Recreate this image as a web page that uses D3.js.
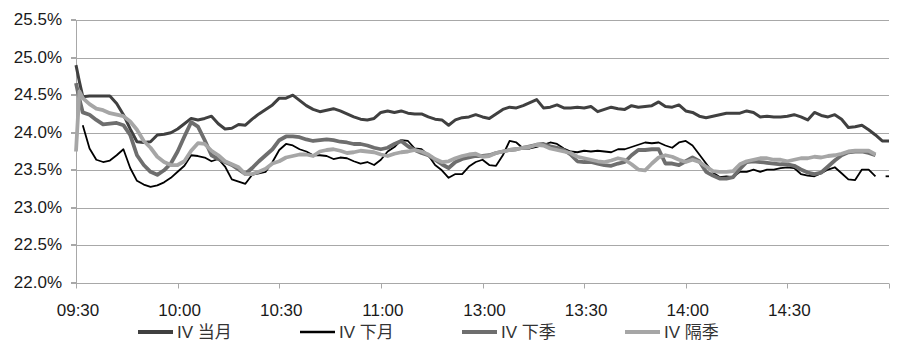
<!DOCTYPE html>
<html><head><meta charset="utf-8">
<script src="https://cdn.jsdelivr.net/npm/d3@7"></script>
<style>body{margin:0;background:#fff;}svg{display:block;}</style>
</head><body><svg id="c" width="900" height="353"></svg>
<script>
// minutes of trading since 09:30 (11:30 and 13:00 share minute 120)
const minutes = [0, 1].concat(d3.range(2, 241, 2));
const times = minutes.map(m => {
  const t = m <= 120 ? 570 + m : 780 + (m - 120);
  return String(Math.floor(t / 60)).padStart(2, "0") + ":" + String(t % 60).padStart(2, "0");
});
const xTickLabels = ["09:30","10:00","10:30","11:00","13:00","13:30","14:00","14:30"];
const yTickValues = [22.0, 22.5, 23.0, 23.5, 24.0, 24.5, 25.0, 25.5];
const seriesNames = ["IV 当月", "IV 下月", "IV 下季", "IV 隔季"];

const ivDangYue = [
 24.90,24.68,24.48,24.49,24.49,24.49,24.49,24.39,24.24,24.05,23.88,23.87,23.88,23.97,23.98,24.00,24.05,24.12,24.19,24.17,24.19,
 24.22,24.12,24.05,24.06,24.11,24.10,24.18,24.25,24.31,24.37,24.46,24.46,24.50,24.43,24.36,24.31,24.28,24.30,24.32,24.29,
 24.25,24.21,24.18,24.17,24.19,24.27,24.29,24.27,24.29,24.26,24.25,24.25,24.21,24.18,24.17,24.10,24.17,24.20,24.21,24.24,
 24.21,24.19,24.25,24.31,24.34,24.33,24.36,24.40,24.44,24.33,24.34,24.37,24.33,24.33,24.34,24.33,24.35,24.28,24.31,24.34,
 24.32,24.31,24.36,24.34,24.35,24.36,24.41,24.35,24.34,24.37,24.29,24.27,24.22,24.20,24.22,24.24,24.26,24.26,24.26,24.29,
 24.27,24.21,24.22,24.21,24.21,24.22,24.24,24.21,24.17,24.27,24.23,24.21,24.24,24.18,24.07,24.08,24.10,24.04,23.97,23.89,23.89];
const ivXiaYue = [
 null,null,24.10,23.79,23.64,23.61,23.63,23.70,23.78,23.53,23.36,23.31,23.28,23.30,23.34,23.40,23.48,23.56,23.70,23.69,23.67,
 23.62,23.65,23.55,23.38,23.35,23.32,23.44,23.46,23.48,23.61,23.77,23.85,23.83,23.78,23.75,23.70,23.70,23.69,23.65,23.67,
 23.66,23.62,23.59,23.61,23.57,23.64,23.75,23.81,23.90,23.89,23.79,23.78,23.70,23.57,23.50,23.40,23.45,23.45,23.55,23.61,
 23.64,23.57,23.56,23.70,23.89,23.87,23.79,23.79,23.81,23.84,23.87,23.85,23.79,23.75,23.74,23.76,23.75,23.76,23.75,23.74,
 23.78,23.78,23.81,23.84,23.87,23.86,23.87,23.83,23.80,23.87,23.89,23.83,23.71,23.59,23.47,23.41,23.42,23.41,23.48,23.48,
 23.51,23.48,23.51,23.51,23.53,23.54,23.53,23.45,23.43,23.42,23.46,23.51,23.54,23.46,23.38,23.37,23.51,23.51,23.42,null,23.42];
const ivXiaJi = [
 24.66,24.45,24.27,24.24,24.17,24.11,24.12,24.13,24.10,23.97,23.70,23.57,23.48,23.44,23.50,23.59,23.75,23.95,24.14,24.08,23.90,
 23.70,23.65,23.61,23.57,23.51,23.45,23.53,23.62,23.70,23.78,23.90,23.95,23.95,23.94,23.91,23.89,23.90,23.91,23.90,23.88,
 23.87,23.85,23.85,23.83,23.80,23.78,23.80,23.85,23.89,23.82,23.77,23.73,23.70,23.64,23.58,23.53,23.61,23.65,23.67,23.69,
 23.69,23.70,23.73,23.75,23.77,23.78,23.80,23.82,23.84,23.85,23.82,23.80,23.77,23.71,23.62,23.61,23.61,23.59,23.57,23.56,
 23.59,23.61,23.70,23.77,23.77,23.78,23.78,23.59,23.59,23.57,23.62,23.67,23.62,23.48,23.43,23.39,23.39,23.41,23.52,23.61,
 23.62,23.61,23.60,23.59,23.58,23.58,23.56,23.51,23.47,23.45,23.47,23.55,23.63,23.70,23.74,23.75,23.75,23.73,23.70,null,null];
const ivGeJi = [
 23.75,24.55,24.46,24.38,24.32,24.30,24.26,24.24,24.22,24.15,24.04,23.89,23.80,23.68,23.61,23.57,23.57,23.62,23.76,23.86,23.85,
 23.76,23.70,23.62,23.58,23.54,23.45,23.45,23.48,23.52,23.59,23.62,23.67,23.69,23.71,23.71,23.69,23.75,23.77,23.78,23.76,
 23.73,23.74,23.76,23.75,23.74,23.71,23.69,23.72,23.74,23.75,23.77,23.75,23.71,23.65,23.61,23.62,23.66,23.69,23.71,23.72,
 23.68,23.69,23.73,23.75,23.77,23.78,23.80,23.81,23.84,23.83,23.79,23.77,23.75,23.73,23.68,23.66,23.64,23.62,23.61,23.63,
 23.66,23.64,23.58,23.51,23.50,23.59,23.67,23.70,23.68,23.64,23.61,23.64,23.61,23.55,23.49,23.48,23.48,23.49,23.58,23.62,
 23.64,23.66,23.66,23.64,23.64,23.62,23.64,23.66,23.66,23.68,23.67,23.69,23.70,23.72,23.75,23.76,23.76,23.76,23.71,null,null];

const seriesValues = [ivDangYue, ivXiaYue, ivXiaJi, ivGeJi];
const styles = [
  {color: "#404040", width: 3},
  {color: "#000000", width: 1.8},
  {color: "#6e6e6e", width: 3.8},
  {color: "#a6a6a6", width: 3.8}
];

const svg = d3.select("#c");
svg.append("rect").attr("width", 900).attr("height", 353).attr("fill", "#fff");

const toMin = t => { const [h, m] = t.split(":").map(Number); const v = h * 60 + m; return v <= 690 ? v - 570 : v - 780 + 120; };
const x = d3.scaleLinear().domain([0, 240]).range([76, 889]);
const y = d3.scaleLinear().domain([22, 25.5]).range([283, 20]);
const gridColor = "#a8a8a8";
const font = "'Liberation Sans', Arial, sans-serif";
const fs = 17;

// gridlines
svg.append("g").selectAll("line").data(yTickValues.slice(1)).join("line")
  .attr("x1", 71).attr("x2", x(240)).attr("y1", d => Math.round(y(d)) + 0.5).attr("y2", d => Math.round(y(d)) + 0.5)
  .attr("stroke", gridColor).attr("stroke-width", 1);
// y axis
const yAxis = svg.append("g").attr("transform", `translate(${x(0)},0)`)
  .call(d3.axisLeft(y).tickValues(yTickValues).tickSize(5).tickPadding(9).tickFormat(d => d.toFixed(1) + "%"));
yAxis.select(".domain").attr("stroke", gridColor);
yAxis.selectAll(".tick line").attr("stroke", gridColor);
yAxis.selectAll("text").attr("font-family", font).attr("font-size", fs).attr("fill", "#1a1a1a").attr("dy", "0.3em");
yAxis.selectAll(".tick").attr("transform", d => `translate(0,${Math.round(y(d)) - 0.5})`);

// x axis
const xAxisG = svg.append("g").attr("transform", `translate(0,${Math.round(y(22)) + 0.5})`);
xAxisG.append("line").attr("x1", x(0)).attr("x2", x(240)).attr("stroke", gridColor);
const tickMins = xTickLabels.map(toMin).concat([240]);
xAxisG.selectAll("line.t").data(tickMins).join("line").attr("class", "t")
  .attr("x1", d => Math.round(x(d)) + 0.5).attr("x2", d => Math.round(x(d)) + 0.5)
  .attr("y1", 0).attr("y2", 5).attr("stroke", gridColor);
xAxisG.selectAll("text").data(xTickLabels).join("text")
  .attr("x", d => x(toMin(d)) + 2).attr("y", 32).attr("text-anchor", "middle")
  .attr("font-family", font).attr("font-size", fs).attr("fill", "#1a1a1a").text(d => d);

// series
const line = d3.line().defined(d => d.v != null).x(d => x(d.m)).y(d => y(d.v));
seriesValues.forEach((vals, i) => {
  const pts = vals.map((v, j) => ({m: toMin(times[j]), v}));
  svg.append("path").datum(pts).attr("d", line).attr("fill", "none")
    .attr("stroke", styles[i].color).attr("stroke-width", styles[i].width)
    .attr("stroke-linejoin", "round").attr("stroke-linecap", "butt");
  // isolated values shown as a short dash
  pts.forEach((p, j) => {
    if (p.v != null && (j === 0 || pts[j-1].v == null) && (j === pts.length - 1 || pts[j+1].v == null)) {
      svg.append("line").attr("x1", x(p.m - 1)).attr("x2", x(p.m)).attr("y1", y(p.v)).attr("y2", y(p.v))
        .attr("stroke", styles[i].color).attr("stroke-width", styles[i].width);
    }
  });
});

// legend
const legendX = [138, 300, 462, 625];
const lg = svg.append("g").attr("transform", "translate(0,332)");
seriesNames.forEach((name, i) => {
  lg.append("line").attr("x1", legendX[i]).attr("x2", legendX[i] + 35).attr("y1", 0).attr("y2", 0)
    .attr("stroke", styles[i].color).attr("stroke-width", i === 1 ? 2.5 : 4);
  lg.append("text").attr("x", legendX[i] + 39).attr("y", 6)
    .attr("font-family", "'Liberation Sans', 'Noto Sans CJK SC', sans-serif").attr("font-size", fs)
    .attr("fill", "#333").text(name);
});
</script></body></html>
